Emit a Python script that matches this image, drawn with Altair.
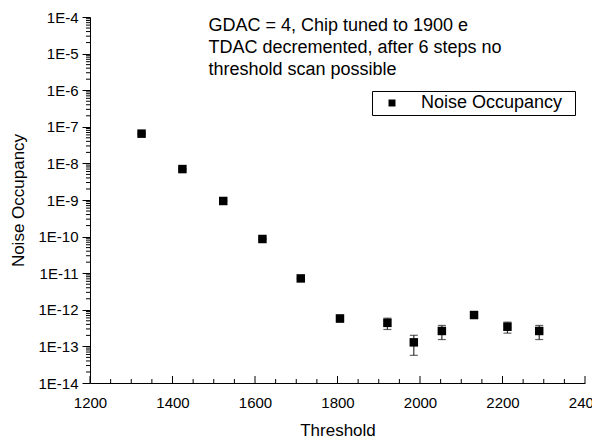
import altair as alt
import pandas as pd

# ---- data ----
threshold = [1325, 1424, 1523, 1618, 1711, 1806, 1921, 1985, 2053, 2131, 2212, 2289]
occupancy = [6.5e-8, 7.0e-9, 9.4e-10, 8.6e-11, 7.2e-12, 5.8e-13, 4.4e-13,
             1.29e-13, 2.64e-13, 7.2e-13, 3.45e-13, 2.64e-13]
error = [1.5e-9, 1.5e-10, 2.0e-11, 2.0e-12, 2.0e-13, 1.2e-13, 1.5e-13,
         0.72e-13, 1.1e-13, 1.0e-13, 1.15e-13, 1.1e-13]
series_name = "Noise Occupancy"

annotation_lines = ["GDAC = 4, Chip tuned to 1900 e",
                    "TDAC decremented, after 6 steps no",
                    "threshold scan possible"]
annotation_x = [1487]
annotation_y = [4.2e-5]

x_major = [1200, 1400, 1600, 1800, 2000, 2200, 2400]
x_minor = [1250, 1300, 1350, 1450, 1500, 1550, 1650, 1700, 1750, 1850, 1900, 1950,
           2050, 2100, 2150, 2250, 2300, 2350]
y_major = [1e-14, 1e-13, 1e-12, 1e-11, 1e-10, 1e-9, 1e-8, 1e-7, 1e-6, 1e-5, 1e-4]
y_mantissas = [2, 3, 4, 5, 6, 7, 8, 9]
y_minor = [m * d for d in y_major[:-1] for m in y_mantissas]

FONT = "Liberation Sans"

df = pd.DataFrame({"threshold": threshold, "occ": occupancy, "err": error})
df["lo"] = df["occ"] - df["err"]
df["hi"] = df["occ"] + df["err"]
df["series"] = series_name

xmajor_df = pd.DataFrame({"t": x_major})
xminor_df = pd.DataFrame({"t": x_minor})
yminor_df = pd.DataFrame({"v": y_minor})
ann_df = pd.DataFrame({"x": annotation_x, "y": annotation_y, "text": [annotation_lines]})

xscale = alt.Scale(domain=[1200, 2400], nice=False, zero=False)
yscale = alt.Scale(type="log", domain=[1e-14, 1e-4], nice=False)

xaxis = alt.Axis(title="Threshold", values=x_major, ticks=False, tickSize=0,
                 labelPadding=12, titlePadding=12, labelFontSize=15,
                 titleFontSize=17, format="d", labelFlush=False)
yaxis = alt.Axis(title="Noise Occupancy", values=y_major, tickSize=8,
                 labelExpr="'1E' + round(log(datum.value)/LN10)",
                 labelPadding=4, titlePadding=10, labelFontSize=15,
                 titleFontSize=17, labelOverlap=False, labelFlush=False)


def X(field):
    return alt.X(f"{field}:Q", scale=xscale, axis=xaxis)


def Y(field):
    return alt.Y(f"{field}:Q", scale=yscale, axis=yaxis)


xmajor_ticks = alt.Chart(xmajor_df).mark_rule(color="black", strokeWidth=1).encode(
    x=X("t"), y=alt.value(366), y2=alt.value(359))
xminor_ticks = alt.Chart(xminor_df).mark_rule(color="black", strokeWidth=1).encode(
    x=X("t"), y=alt.value(366), y2=alt.value(362))
yminor_ticks = alt.Chart(yminor_df).mark_rule(color="black", strokeWidth=1).encode(
    y=Y("v"), x=alt.value(-4), x2=alt.value(0))

err_rule = alt.Chart(df).mark_rule(color="#333333", strokeWidth=1.2).encode(
    x=X("threshold"), y=Y("lo"), y2="hi")
cap_lo = alt.Chart(df).mark_tick(color="#222222", orient="horizontal", size=8, thickness=1.2).encode(
    x=X("threshold"), y=Y("lo"))
cap_hi = alt.Chart(df).mark_tick(color="#222222", orient="horizontal", size=8, thickness=1.2).encode(
    x=X("threshold"), y=Y("hi"))

points = alt.Chart(df).mark_square(size=72, opacity=1, filled=True).encode(
    x=X("threshold"), y=Y("occ"),
    color=alt.Color("series:N", scale=alt.Scale(range=["black"]),
                    legend=alt.Legend(
                        title="\u00a0", titleOrient="right", titlePadding=10,
                        titleFontSize=18, titleFont=FONT,
                        orient="none", legendX=282, legendY=74,
                        strokeColor="black", fillColor="white", padding=3,
                        symbolType="square", symbolSize=49, symbolOffset=8,
                        symbolStrokeWidth=0, labelOffset=20, labelFontSize=18,
                        labelFont=FONT, labelColor="black", labelLimit=300)))

annotation = alt.Chart(ann_df).mark_text(
    align="left", baseline="alphabetic", fontSize=18, font=FONT,
    lineHeight=22, color="black").encode(x=X("x"), y=Y("y"), text="text")

chart = alt.layer(xmajor_ticks, xminor_ticks, yminor_ticks, err_rule, cap_lo, cap_hi,
                  points, annotation).properties(
    width=495, height=366,
    autosize=alt.AutoSizeParams(type="none"),
    padding={"left": 82, "top": 9, "right": 7, "bottom": 56},
).configure_view(stroke=None).configure_axis(
    grid=False, domainColor="black", tickColor="black", labelColor="black",
    titleColor="black", labelFont=FONT, titleFont=FONT, titleFontWeight="normal",
    domainWidth=1, tickWidth=1)

chart.save("out.html", embed_options={"renderer": "svg", "actions": False})
